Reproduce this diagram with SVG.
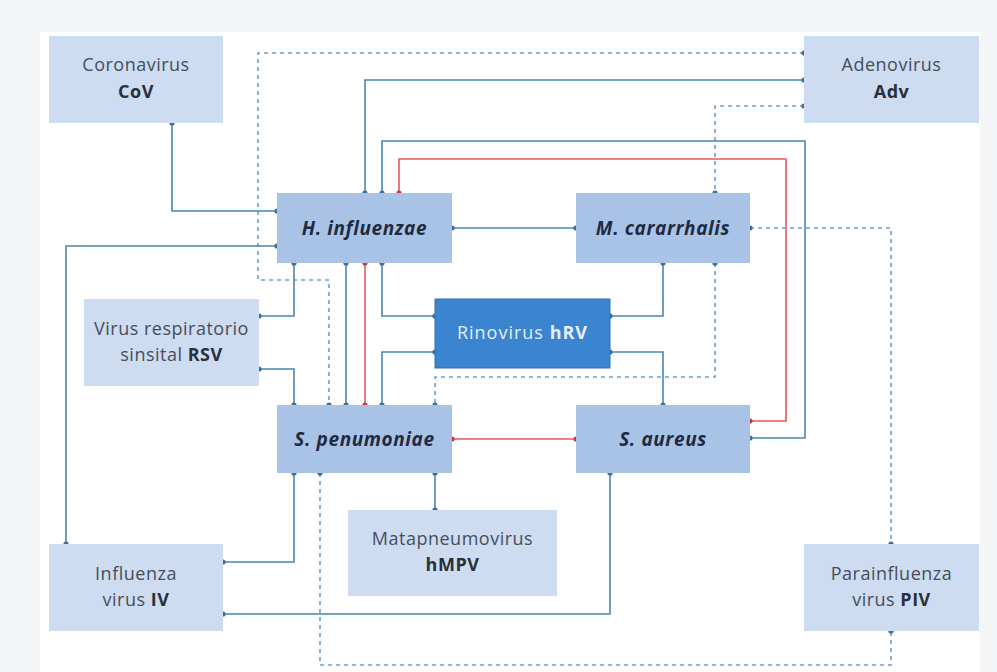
<svg xmlns="http://www.w3.org/2000/svg" width="997" height="672" viewBox="0 0 997 672">
<style>
.bg{fill:#f4f5f6}
.panel{fill:#ffffff}
.v{fill:#cddcf0}
.b{fill:#a9c3e6}
.r{fill:#3b84cf;stroke:#2f70b5;stroke-width:1}
.t{font-family:"Open Sans",Lato,sans-serif;font-size:18px;fill:#474e5a;text-anchor:middle;letter-spacing:0.5px}
.tb{font-weight:bold;fill:#2a303b}
.bt{font-family:"Open Sans",Lato,sans-serif;font-size:19px;font-weight:bold;font-style:italic;fill:#1f2b42;text-anchor:middle;letter-spacing:0.6px}
.wt{font-family:"Open Sans",Lato,sans-serif;font-size:18px;fill:#e6eefa;text-anchor:middle;letter-spacing:1px}
.s{fill:none;stroke:#4a86b4;stroke-width:1.6;marker-start:url(#d);marker-end:url(#d)}
.dsh{fill:none;stroke:#6b9fd0;stroke-width:1.6;stroke-dasharray:4 4;marker-start:url(#d);marker-end:url(#d)}
.red{fill:none;stroke:#e8585a;stroke-width:1.6;marker-start:url(#dr);marker-end:url(#dr)}
</style>
<defs>
<marker id="d" viewBox="0 0 6 6" refX="3" refY="3" markerWidth="6" markerHeight="6" markerUnits="userSpaceOnUse"><circle cx="3" cy="3" r="2.6" fill="#3c6f99"/></marker>
<marker id="dr" viewBox="0 0 6 6" refX="3" refY="3" markerWidth="6" markerHeight="6" markerUnits="userSpaceOnUse"><circle cx="3" cy="3" r="2.6" fill="#c8364a"/></marker>
</defs>
<rect class="bg" x="0" y="0" width="997" height="672"/>
<rect class="panel" x="40" y="32" width="940" height="640"/>
<g id="connectors">
<path class="dsh" d="M804,53 H258 V280 H329 V405"/>
<path class="s" d="M804,80 H365 V193"/>
<path class="dsh" d="M804,106 H715 V193"/>
<path class="s" d="M382,193 V141 H805 V438 H750"/>
<path class="red" d="M399,193 V159 H786 V421 H750"/>
<path class="s" d="M172,123 V211 H277"/>
<path class="s" d="M277,246 H66 V544"/>
<path class="s" d="M452,228 H576"/>
<path class="dsh" d="M750,228 H891 V544"/>
<path class="s" d="M294,263 V316 H259"/>
<path class="s" d="M259,369 H294 V405"/>
<path class="s" d="M346,263 V405"/>
<path class="red" d="M365,263 V405"/>
<path class="s" d="M382,263 V316 H435"/>
<path class="s" d="M435,352 H382 V405"/>
<path class="dsh" d="M715,263 V377 H435 V405"/>
<path class="s" d="M663,263 V316 H610"/>
<path class="s" d="M610,352 H663 V405"/>
<path class="red" d="M452,439 H576"/>
<path class="s" d="M294,473 V562 H223"/>
<path class="dsh" d="M320,473 V665 H891 V631"/>
<path class="s" d="M610,473 V614 H223"/>
<path class="s" d="M435,473 V510"/>
</g>
<g id="cov"><rect class="v" x="49" y="36" width="174" height="87"/><text class="t" x="136" y="71">Coronavirus</text><text class="t tb" x="136" y="98">CoV</text></g>
<g id="adv"><rect class="v" x="804" y="36" width="175" height="87"/><text class="t" x="891.5" y="71">Adenovirus</text><text class="t tb" x="891.5" y="98">Adv</text></g>
<g id="hinf"><rect class="b" x="277" y="193" width="175" height="70"/><text class="bt" x="364.5" y="235">H. influenzae</text></g>
<g id="mcar"><rect class="b" x="576" y="193" width="174" height="70"/><text class="bt" x="663" y="235">M. cararrhalis</text></g>
<g id="rsv"><rect class="v" x="84" y="299" width="175" height="87"/><text class="t" x="171.5" y="335">Virus respiratorio</text><text class="t" x="171.5" y="361">sinsital <tspan class="tb">RSV</tspan></text></g>
<g id="hrv"><rect class="r" x="435" y="299" width="175" height="69"/><text class="wt" x="522.5" y="339">Rinovirus <tspan font-weight="bold">hRV</tspan></text></g>
<g id="spen"><rect class="b" x="277" y="405" width="175" height="68"/><text class="bt" x="364.5" y="446">S. penumoniae</text></g>
<g id="saur"><rect class="b" x="576" y="405" width="174" height="68"/><text class="bt" x="663" y="446">S. aureus</text></g>
<g id="hmpv"><rect class="v" x="348" y="510" width="209" height="86"/><text class="t" x="452.5" y="545">Matapneumovirus</text><text class="t tb" x="452.5" y="571">hMPV</text></g>
<g id="iv"><rect class="v" x="49" y="544" width="174" height="87"/><text class="t" x="136" y="580">Influenza</text><text class="t" x="136" y="606">virus <tspan class="tb">IV</tspan></text></g>
<g id="piv"><rect class="v" x="804" y="544" width="175" height="87"/><text class="t" x="891.5" y="580">Parainfluenza</text><text class="t" x="891.5" y="606">virus <tspan class="tb">PIV</tspan></text></g>
</svg>
